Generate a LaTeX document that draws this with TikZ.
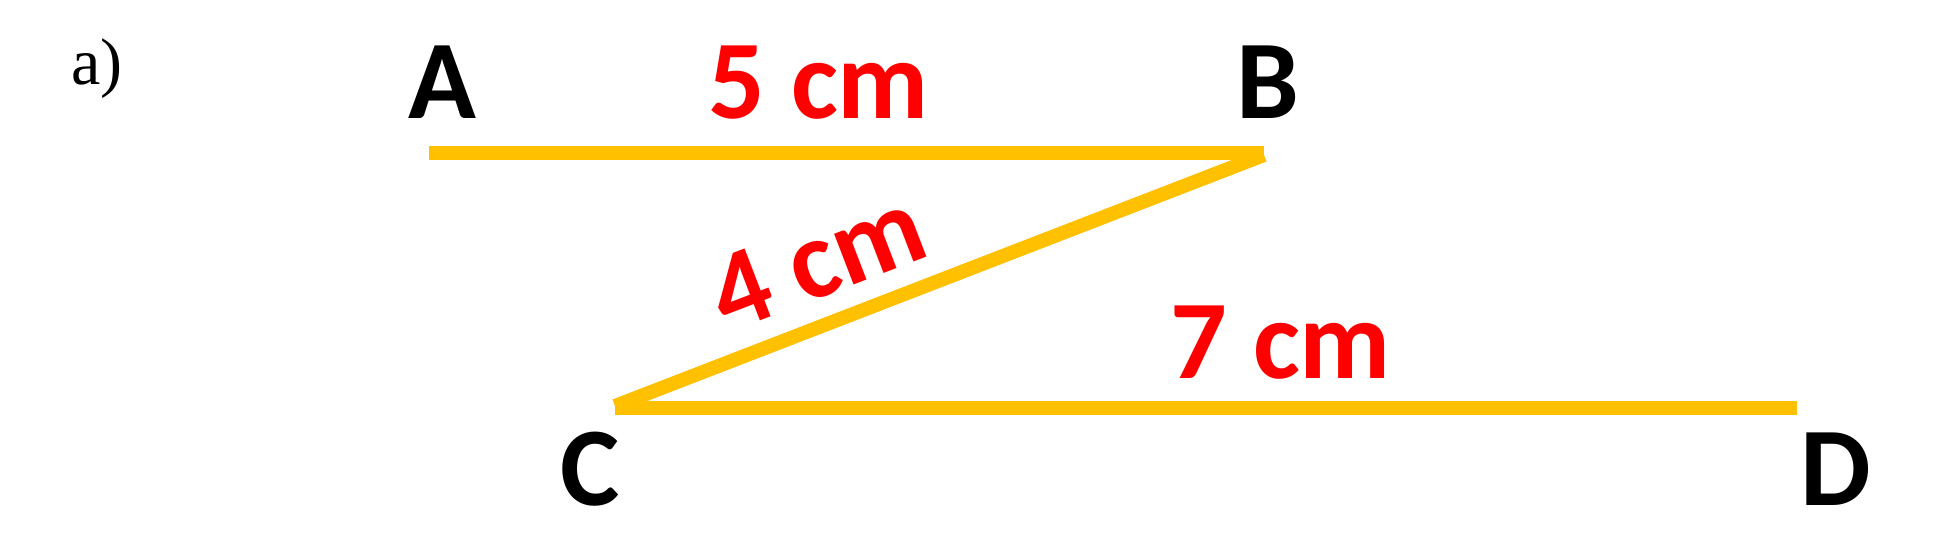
\documentclass[tikz,border=0pt]{standalone}
\usepackage{fontspec}
\setmainfont{Carlito}
\newfontfamily\serifa{Liberation Serif}
\definecolor{linegold}{HTML}{FFC000}
\definecolor{lenred}{HTML}{FF0000}
\begin{document}
\begin{tikzpicture}[x=1pt,y=-1pt,
  seg/.style={draw=linegold, line width=14pt, line cap=butt},
  vlabel/.style={font=\fontsize{112}{130}\selectfont\bfseries, text=black, inner sep=0pt, anchor=base},
  lenlabel/.style={font=\fontsize{112}{130}\selectfont\bfseries, text=lenred, inner sep=0pt, anchor=base},
  partlabel/.style={font=\serifa\fontsize{66}{76}\selectfont, text=black, inner sep=0pt, anchor=base}]
\useasboundingbox[fill=white] (0,0) rectangle (1940,541);
% line end points
\coordinate (pA) at (429,153);
\coordinate (pB) at (1264,153);
\coordinate (pBd) at (1264,155);
\coordinate (pC) at (615,406);
\coordinate (pCb) at (615,408);
\coordinate (pD) at (1797,408);
% segments
\draw[seg] (pA) -- (pB);
\draw[seg] (pBd) -- (pC);
\draw[seg] (pCb) -- (pD);
% labels
\node[partlabel] (part) at (97,84) {a)};
\node[vlabel] (A) at (442,118) {A};
\node[vlabel] (B) at (1268,118) {B};
\node[vlabel] (C) at (590,505.5) {C};
\node[vlabel] (D) at (1836,505.5) {D};
\node[lenlabel] (l5) at (819,118) {5 cm};
\node[lenlabel, rotate=21] (l4) at (830,294) {4 cm};
\node[lenlabel] (l7) at (1281,378) {7 cm};
\end{tikzpicture}
\end{document}
